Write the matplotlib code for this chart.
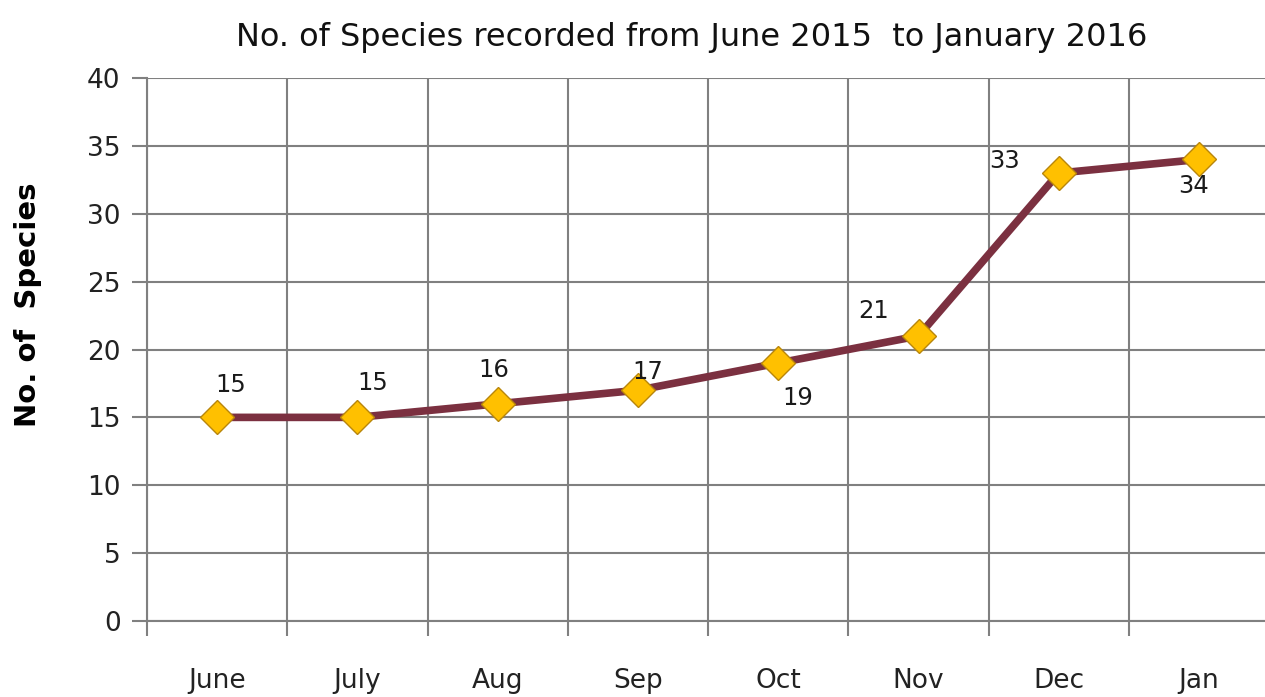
import matplotlib
matplotlib.use("Agg")
import matplotlib.pyplot as plt

months = ["June", "July", "Aug", "Sep", "Oct", "Nov", "Dec", "Jan"]
species = [15, 15, 16, 17, 19, 21, 33, 34]
# label offsets in points (dx, dy) for each data label
label_offsets = [(10, 23), (11, 25), (-3, 24), (7, 13), (14, -25), (-32, 18), (-39, 9), (-4, -19)]

plt.rcParams['font.family'] = ['DejaVu Sans']

fig = plt.figure(figsize=(12.65, 6.97), dpi=100)
ax = fig.add_axes([147 / 1265, 1 - 621 / 697, 1 - 147 / 1265, (621 - 78) / 697])

x = list(range(len(months)))
ax.plot(x, species, color="#7B3040", linewidth=5.5, zorder=3,
        marker="D", markersize=17, markerfacecolor="#FFC000",
        markeredgecolor="#B8860B", markeredgewidth=1)

for i, v in enumerate(species):
    dx, dy = label_offsets[i]
    ax.annotate(str(v), (i, v), xytext=(dx, dy), textcoords="offset points",
                ha="center", va="center", fontsize=17.5, color="#1a1a1a", zorder=4)

ax.set_ylim(0, 40)
ax.set_yticks(range(0, 41, 5))
ax.set_xlim(-0.5, 7.47)
# vertical gridlines at category boundaries
ax.set_xticks([i - 0.5 for i in range(len(months))])
ax.set_xticklabels([])
ax.set_xticks(x, minor=True)
ax.set_xticklabels(months, minor=True)
ax.tick_params(axis="x", which="minor", length=0, pad=34, labelsize=19, labelcolor="#222222")
ax.tick_params(axis="x", which="major", length=11, width=1.5, color="#808080")
ax.tick_params(axis="y", length=11, width=1.5, color="#808080", labelsize=19,
               labelcolor="#222222", pad=8)

ax.grid(True, which="major", color="#808080", linewidth=1.5)
for s in ["top", "right"]:
    ax.spines[s].set_visible(False)
for s in ["left", "bottom"]:
    ax.spines[s].set_color("#808080")
    ax.spines[s].set_linewidth(1.5)

ax.set_ylabel("No. of  Species", fontsize=21, fontweight="bold")
ax.yaxis.set_label_coords(-0.094, 0.582)
fig.suptitle("No. of Species recorded from June 2015  to January 2016",
             x=0.547, y=0.968, fontsize=23, color="#111111")

fig.savefig("out.png", dpi=100)
